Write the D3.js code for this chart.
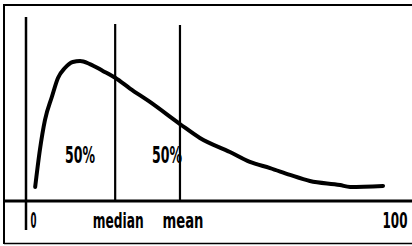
<!DOCTYPE html>
<html><head><meta charset="utf-8">
<script src="https://cdn.jsdelivr.net/npm/d3@7"></script>
<style>
html,body{margin:0;padding:0;background:#fff;}
svg{display:block;}
text{font-family:"DejaVu Sans",sans-serif;font-weight:bold;fill:#000;}
</style></head>
<body>
<script>
// Data (x in 0..100 scale, density in arbitrary units)
const curveX = [0.6, 1.9, 3.3, 5.2, 6.9, 8.8, 11.0, 13.0, 15.7, 19.3, 22.7, 26.8, 32.3, 40.6, 46.1, 54.4, 59.9, 65.5, 71.0, 76.5, 84.8, 87.6, 96.7];
const curveY = [8.8, 31.9, 50.6, 65, 76.9, 83.1, 86.9, 87.5, 85.6, 81.3, 77.0, 70.3, 61.9, 48.1, 39.4, 30.6, 24.4, 20.6, 16.3, 12.5, 10, 8.8, 9.4];
const markerNames = ["median", "mean"];
const markerValues = [22.7, 40.6];
const areaLabels = ["50%", "50%"];
const areaLabelX = [13, 37];
const tickValues = [0, 100];
const tickLabels = ["0", "100"];

const W = 412, H = 246;
const svg = d3.select("body").append("svg").attr("width", W).attr("height", H);

const x = d3.scaleLinear().domain([0, 100]).range([33, 395]);
const y = d3.scaleLinear().domain([0, 100]).range([201, 41]);

// frame
svg.append("path").attr("d", "M4,244 L4,5 L412,5").attr("fill", "none").attr("stroke", "#000").attr("stroke-width", 2);
svg.append("line").attr("x1", 4).attr("x2", 412).attr("y1", 243.5).attr("y2", 243.5).attr("stroke", "#000").attr("stroke-width", 1.5);

// horizontal axis
svg.append("line").attr("x1", 4).attr("x2", 412).attr("y1", y(0)).attr("y2", y(0)).attr("stroke", "#000").attr("stroke-width", 3);
// vertical axis
svg.append("line").attr("x1", x(0) - 7).attr("x2", x(0) - 7).attr("y1", 17).attr("y2", 230).attr("stroke", "#000").attr("stroke-width", 2.5);

// median / mean lines
svg.selectAll("line.marker").data(markerValues).enter().append("line")
  .attr("class", "marker")
  .attr("x1", d => x(d)).attr("x2", d => x(d))
  .attr("y1", (d, i) => i === 0 ? 24 : 25).attr("y2", y(0))
  .attr("stroke", "#000").attr("stroke-width", 2.2);

// curve
const pts = curveX.map((v, i) => [v, curveY[i]]);
svg.append("path").datum(pts)
  .attr("d", d3.line().x(d => x(d[0])).y(d => y(d[1])).curve(d3.curveMonotoneX))
  .attr("fill", "none").attr("stroke", "#000").attr("stroke-width", 4).attr("stroke-linecap", "round");

// helper: place condensed text centred at cx with target width
function condensed(sel, cx, baseline, size, width) {
  sel.attr("font-size", size).attr("x", 0).attr("y", 0).attr("text-anchor", "middle");
  const nat = sel.node().getComputedTextLength();
  const sx = width / nat;
  sel.attr("transform", `translate(${cx},${baseline}) scale(${sx},1)`);
}

// 50% labels
svg.selectAll("text.area").data(areaLabels).enter().append("text")
  .attr("class", "area").text(d => d)
  .each(function (d, i) { condensed(d3.select(this), x(areaLabelX[i]), 162.5, 23, 30); });

// tick labels
svg.selectAll("text.tick").data(tickLabels).enter().append("text")
  .attr("class", "tick").text(d => d)
  .each(function (d, i) { condensed(d3.select(this), x(tickValues[i]) + (i === 0 ? 0.5 : 0), 227.5, 20.5, i === 0 ? 6 : 25); });

// marker labels
svg.selectAll("text.mlab").data(markerNames).enter().append("text")
  .attr("class", "mlab").text(d => d)
  .each(function (d, i) { condensed(d3.select(this), x(markerValues[i]) + 3, 227.5, 20.5, i === 0 ? 51 : 41); });
</script>
</body></html>
